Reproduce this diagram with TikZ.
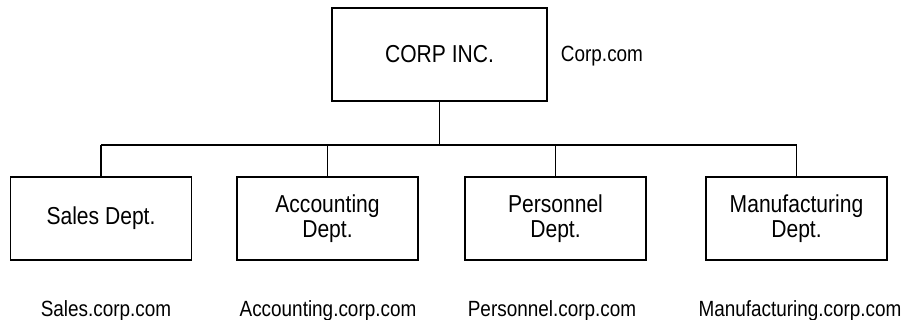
\documentclass[tikz,border=0pt]{standalone}
\usepackage{fontspec}
\setmainfont{Liberation Sans}[FakeStretch=0.86]
\usepackage{tikz}
\usetikzlibrary{positioning}

\begin{document}
\begin{tikzpicture}[x=1pt,y=1pt,
  unit/.style={draw,line width=1.1pt,minimum width=181pt,minimum height=83pt,
    align=center,inner sep=0pt,font=\fontsize{24.5}{25.5}\selectfont},
  site/.style={anchor=base,inner sep=0pt,font=\fontsize{22}{25}\selectfont},
  wire/.style={line width=1.1pt}]
\useasboundingbox (0,0) rectangle (906,320);
\node[unit,minimum width=215pt,minimum height=93pt] (corp) at (439.5,265.5) {CORP INC.};
\node[site] (corpsite) at (602,258) {Corp.com};
\node[unit] (sales) at (101,101.5) {Sales Dept.};
\node[unit] (acct) at (327.5,101.5) {Accounting\\Dept.};
\node[unit] (pers) at (555.5,101.5) {Personnel\\Dept.};
\node[unit] (manu) at (796.5,101.5) {Manufacturing\\Dept.};
\coordinate (bus) at (corp.south |- 0,175);
\draw[wire] (corp.south) -- (bus);
\draw[wire] (sales.north |- bus) -- (manu.north |- bus);
\foreach \d in {sales,acct,pers,manu}
  \draw[wire] (\d.north) -- (\d.north |- bus);
\node[site] (salessite) at (106,3.5) {Sales.corp.com};
\node[site] (acctsite) at (328,3.5) {Accounting.corp.com};
\node[site] (perssite) at (552,3.5) {Personnel.corp.com};
\node[site] (manusite) at (800,3.5) {Manufacturing.corp.com};
\end{tikzpicture}
\end{document}
